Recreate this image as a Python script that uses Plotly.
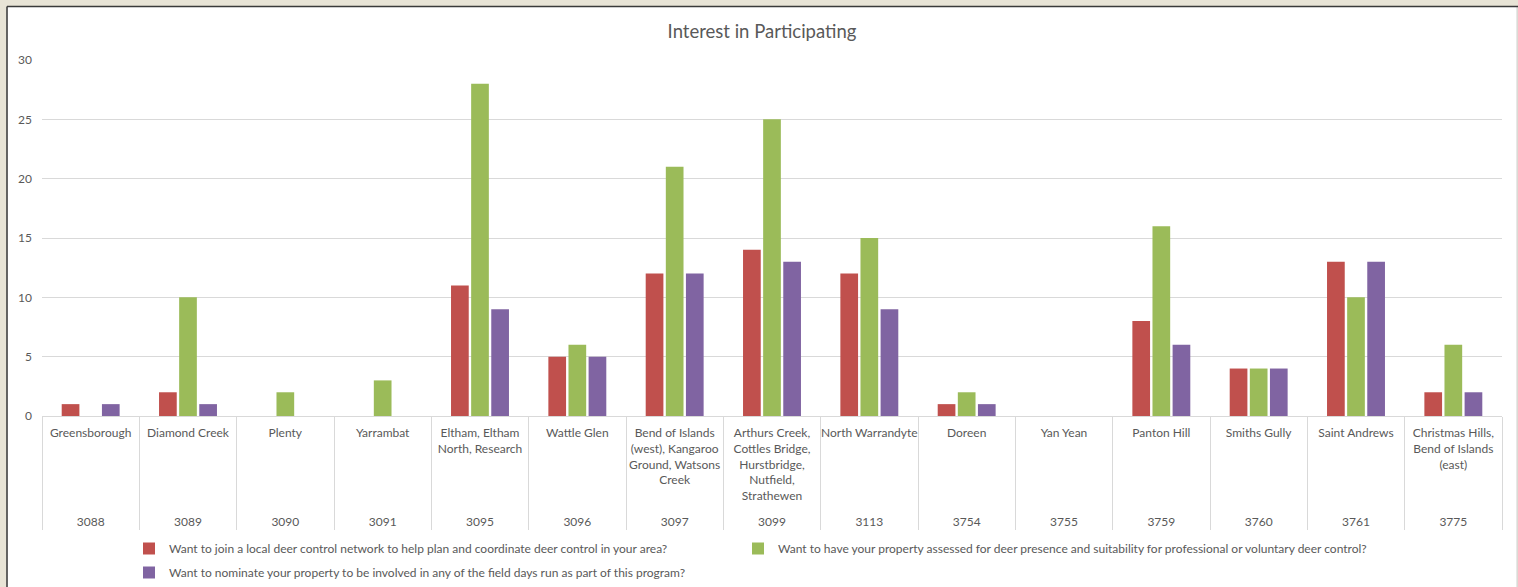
import plotly.graph_objects as go

postcodes = ["3088", "3089", "3090", "3091", "3095", "3096", "3097", "3099",
             "3113", "3754", "3755", "3759", "3760", "3761", "3775"]
suburbs = ["Greensborough", "Diamond Creek", "Plenty", "Yarrambat",
           "Eltham, Eltham<br>North, Research", "Wattle Glen",
           "Bend of Islands<br>(west), Kangaroo<br>Ground, Watsons<br>Creek",
           "Arthurs Creek,<br>Cottles Bridge,<br>Hurstbridge,<br>Nutfield,<br>Strathewen",
           "North Warrandyte", "Doreen", "Yan Yean", "Panton Hill", "Smiths Gully",
           "Saint Andrews", "Christmas Hills,<br>Bend of Islands<br>(east)"]

join_network = [1, 2, 0, 0, 11, 5, 12, 14, 12, 1, 0, 8, 4, 13, 2]
property_assessed = [0, 10, 2, 3, 28, 6, 21, 25, 15, 2, 0, 16, 4, 10, 6]
field_days = [1, 1, 0, 0, 9, 5, 12, 13, 9, 1, 0, 6, 4, 13, 2]

series_names = [
    "Want to join a local deer control network to help plan and coordinate deer control in your area?",
    "Want to have your property assessed for deer presence and suitability for professional or voluntary deer control?",
    "Want to nominate your property to be involved in any of the field days run as part of this program?",
]
series_values = [join_network, property_assessed, field_days]
colors = ["#C0504D", "#9BBB59", "#8064A2"]
legend_ids = ["legend", "legend2", "legend"]

FONT = "Lato, 'Liberation Sans', sans-serif"
TXT = "#595959"

W, H = 1518, 587
L, R, T, B = 42, 16, 60, 171
PW, PH = W - L - R, H - T - B


def px_x(p):
    return (p - L) / PW


def px_y(p):
    return (H - B - p) / PH


# extra blank line under the tallest label keeps the postcode row low, as in the reference
inner_labels = [s + "<br>&nbsp;" if s.count("<br>") == max(t.count("<br>") for t in suburbs) else s
                for s in suburbs]

fig = go.Figure()
for i, (name, vals, col, lg) in enumerate(zip(series_names, series_values, colors, legend_ids)):
    fig.add_trace(go.Bar(
        x=[postcodes, inner_labels], y=vals, name=name,
        marker=dict(color=col, line=dict(width=0)),
        legend=lg, legendgroup=f"g{i}",
    ))

# chart frame (beige page, white chart area)
fig.add_shape(type="rect", xref="paper", yref="paper",
              x0=px_x(7), x1=px_x(1517), y0=px_y(600), y1=px_y(6.5),
              fillcolor="white", line=dict(color="#d0d0d0", width=1), layer="below")
fig.add_shape(type="line", xref="paper", yref="paper",
              x0=px_x(7), x1=px_x(1518), y0=px_y(6.5), y1=px_y(6.5),
              line=dict(color="#3a3a3a", width=1.5), layer="below")
fig.add_shape(type="line", xref="paper", yref="paper",
              x0=px_x(7), x1=px_x(7), y0=px_y(6.5), y1=px_y(600),
              line=dict(color="#3a3a3a", width=1.5), layer="below")

legend_common = dict(orientation="v", yanchor="top", xanchor="left",
                     font=dict(size=12, color=TXT, family=FONT),
                     bgcolor="rgba(0,0,0,0)", traceorder="grouped",
                     tracegroupgap=5)

fig.update_layout(
    width=W, height=H,
    margin=dict(l=L, r=R, t=T, b=B, autoexpand=False),
    paper_bgcolor="#E8E4D6",
    plot_bgcolor="rgba(0,0,0,0)",
    font=dict(family=FONT, color=TXT, size=12),
    title=dict(text="Interest in Participating", x=px_x(762), xref="paper",
               xanchor="center", y=1 - 32 / H, yanchor="middle",
               font=dict(size=18.5, color=TXT, family=FONT)),
    barmode="group", bargap=0.38, bargroupgap=0.12,
    showlegend=True,
    legend=dict(x=px_x(129), y=px_y(534), **legend_common),
    legend2=dict(x=px_x(738), y=px_y(534), **legend_common),
)
fig.update_xaxes(
    type="multicategory", showline=True, linecolor="#d9d9d9", linewidth=1,
    showdividers=True, dividercolor="#d9d9d9", dividerwidth=1,
    ticks="", tickangle=0, tickfont=dict(size=12, color=TXT, family=FONT),
    ticklabelstandoff=6,
    showgrid=False, zeroline=False, automargin=False,
)
fig.update_yaxes(
    range=[0, 30], dtick=5, showgrid=True, gridcolor="#d9d9d9", gridwidth=1,
    zeroline=False, showline=False, ticks="", ticklabelstandoff=9,
    tickfont=dict(size=12, color=TXT, family=FONT), automargin=False,
)

fig.write_html(
    "out.html",
    config={"displayModeBar": False},
    post_script="document.body.style.margin='0';"
                "document.body.style.background='#E8E4D6';"
                "document.documentElement.style.overflow='hidden';",
)
